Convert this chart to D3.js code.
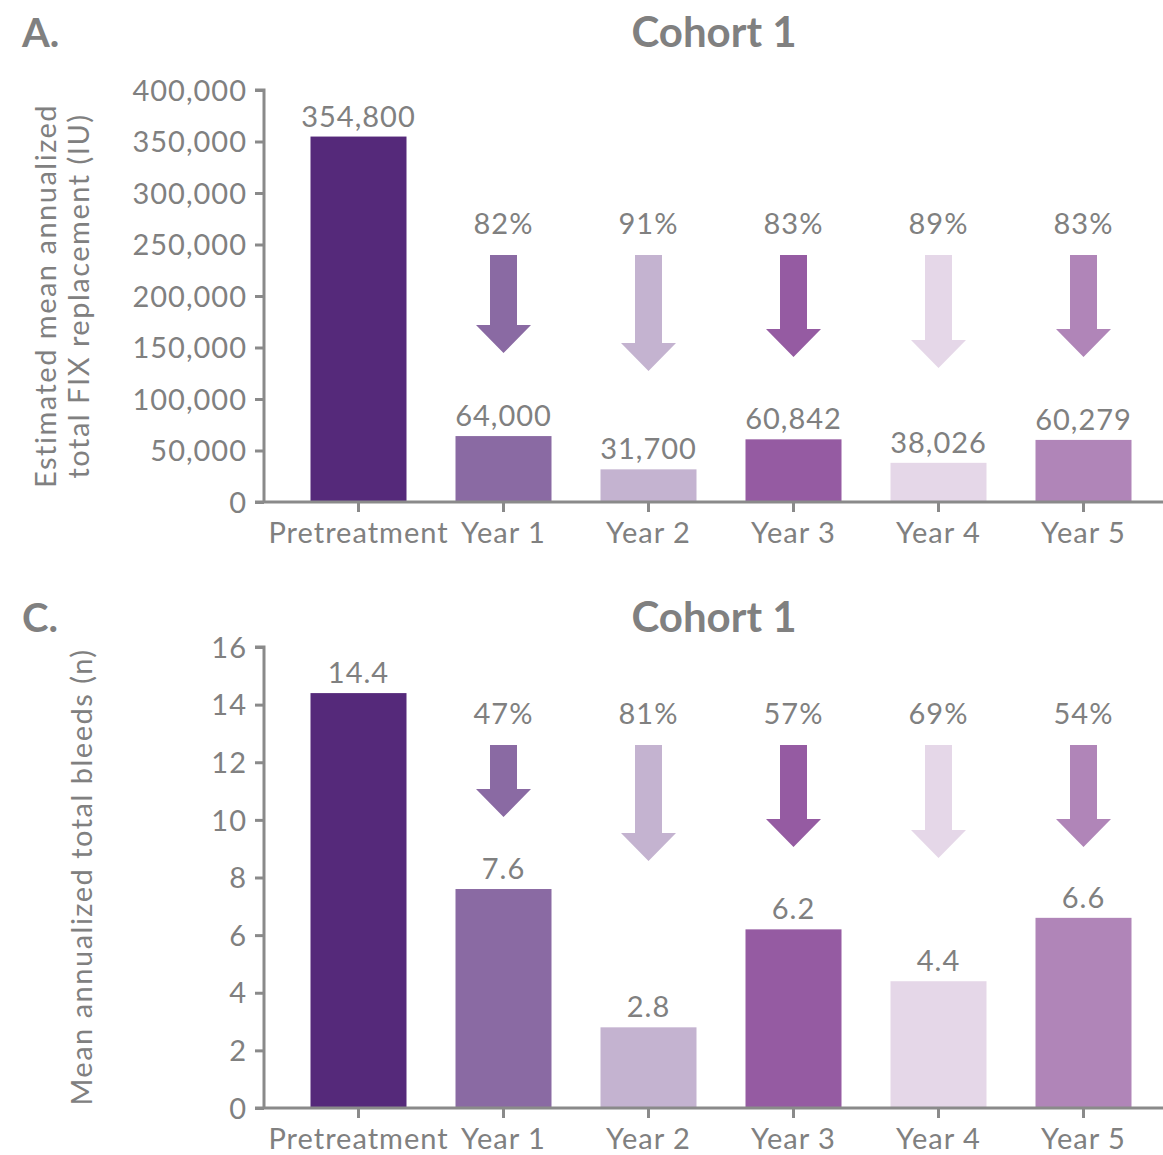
<!DOCTYPE html>
<html>
<head>
<meta charset="utf-8">
<script src="https://cdn.jsdelivr.net/npm/d3@7/dist/d3.min.js"></script>
<style>
  html, body { margin: 0; padding: 0; background: #ffffff; }
  svg { display: block; font-family: Lato, "Open Sans", sans-serif; }
</style>
</head>
<body>
<svg id="chart" width="1163" height="1155"></svg>
<script>
// ---- Data ----
const categories = ["Pretreatment", "Year 1", "Year 2", "Year 3", "Year 4", "Year 5"];
const fixValues = [354800, 64000, 31700, 60842, 38026, 60279];
const fixLabels = ["354,800", "64,000", "31,700", "60,842", "38,026", "60,279"];
const fixReductions = ["82%", "91%", "83%", "89%", "83%"];
const fixTicks = [0, 50000, 100000, 150000, 200000, 250000, 300000, 350000, 400000];

const bleedValues = [14.4, 7.6, 2.8, 6.2, 4.4, 6.6];
const bleedLabels = ["14.4", "7.6", "2.8", "6.2", "4.4", "6.6"];
const bleedReductions = ["47%", "81%", "57%", "69%", "54%"];
const bleedTicks = [0, 2, 4, 6, 8, 10, 12, 14, 16];

const colors = ["#55297a", "#8a6aa3", "#c4b3d0", "#955ba2", "#e5d7e8", "#b085b8"];

// arrow lengths (pixels, decorative)
const arrowLenA = [98, 116, 102, 113, 102];
const arrowLenC = [72, 116, 102, 113, 102];

const textColor = "#808080";
const axisColor = "#8a8a8a";
const FS = 29;     // body text size
const LS = 1;      // letter spacing

const svg = d3.select("#chart");

function panel(cfg) {
  const g = svg.append("g");
  const x = d3.scaleBand().domain(categories).range([286, 1156]).paddingInner(0.34).paddingOuter(0.17);
  const xc = d => x(d) + x.bandwidth() / 2;
  const y = d3.scaleLinear().domain(cfg.domain).range([cfg.y0, cfg.y1]);

  // panel letter
  g.append("text").attr("x", 22).attr("y", cfg.titleY)
    .attr("font-size", 40).attr("font-weight", 700).attr("fill", textColor).text(cfg.letter);
  // title
  g.append("text").attr("x", 714).attr("y", cfg.titleY).attr("text-anchor", "middle")
    .attr("font-size", 42).attr("font-weight", 700).attr("fill", textColor).text("Cohort 1");

  // bars
  g.selectAll("rect.bar").data(cfg.values).join("rect")
    .attr("x", (d, i) => xc(categories[i]) - 48)
    .attr("width", 96)
    .attr("y", d => y(d))
    .attr("height", d => y(0) - y(d))
    .attr("fill", (d, i) => colors[i]);

  // value labels
  g.selectAll("text.val").data(cfg.values).join("text")
    .attr("x", (d, i) => xc(categories[i]))
    .attr("y", d => y(d) - 10)
    .attr("text-anchor", "middle").attr("font-size", FS).attr("letter-spacing", LS)
    .attr("fill", textColor)
    .text((d, i) => cfg.labels[i]);

  // y axis
  const yAxis = d3.axisLeft(y).tickValues(cfg.ticks).tickSize(9).tickPadding(8)
    .tickFormat(cfg.fmt);
  const ya = g.append("g").attr("transform", "translate(264,0)").call(yAxis);
  ya.select(".domain").attr("stroke", axisColor).attr("stroke-width", 3)
    .attr("d", `M-9,${cfg.y1}H0V${cfg.y0}`);
  ya.selectAll(".tick line").attr("stroke", axisColor).attr("stroke-width", 3);
  ya.selectAll(".tick text").attr("fill", textColor).attr("font-size", FS)
    .attr("letter-spacing", LS)
    .attr("font-family", "Lato, sans-serif").attr("dy", "0.35em");

  // x axis
  const xAxis = d3.axisBottom(x).tickSize(10).tickPadding(10);
  const xa = g.append("g").attr("transform", `translate(0,${cfg.y0})`).call(xAxis);
  xa.select(".domain").attr("stroke", axisColor).attr("stroke-width", 3)
    .attr("d", "M255,0H1163");
  xa.selectAll(".tick line").attr("stroke", axisColor).attr("stroke-width", 3);
  xa.selectAll(".tick text").attr("fill", textColor).attr("font-size", FS)
    .attr("letter-spacing", LS)
    .attr("font-family", "Lato, sans-serif");

  // y axis label
  const lab = g.append("text")
    .attr("transform", `translate(${cfg.labX},${cfg.labY}) rotate(-90)`)
    .attr("text-anchor", "middle").attr("font-size", FS).attr("letter-spacing", 1.5)
    .attr("fill", textColor);
  cfg.ylabel.forEach((t, i) => {
    lab.append("tspan").attr("x", 0).attr("dy", i === 0 ? 0 : 33).text(t);
  });

  // arrows + reduction labels
  cfg.reductions.forEach((r, i) => {
    const cx = xc(categories[i + 1]);
    const top = cfg.arrowTop;
    const len = cfg.arrowLen[i];
    const tip = top + len, headY = tip - 28;
    const path = d3.path();
    path.moveTo(cx - 13.5, top);
    path.lineTo(cx + 13.5, top);
    path.lineTo(cx + 13.5, headY);
    path.lineTo(cx + 27.5, headY);
    path.lineTo(cx, tip);
    path.lineTo(cx - 27.5, headY);
    path.lineTo(cx - 13.5, headY);
    path.closePath();
    g.append("path").attr("d", path.toString()).attr("fill", colors[i + 1]);
    g.append("text").attr("x", cx).attr("y", top - 21)
      .attr("text-anchor", "middle").attr("font-size", FS).attr("letter-spacing", LS)
      .attr("fill", textColor).text(r);
  });
}

panel({
  letter: "A.", domain: [0, 400000], y0: 502, y1: 90, titleY: 47,
  values: fixValues, labels: fixLabels, reductions: fixReductions,
  ticks: fixTicks, fmt: d3.format(","),
  arrowTop: 255, arrowLen: arrowLenA,
  ylabel: ["Estimated mean annualized", "total FIX replacement (IU)"],
  labX: 56, labY: 296
});

panel({
  letter: "C.", domain: [0, 16], y0: 1108, y1: 647, titleY: 632,
  values: bleedValues, labels: bleedLabels, reductions: bleedReductions,
  ticks: bleedTicks, fmt: d3.format("d"),
  arrowTop: 745, arrowLen: arrowLenC,
  ylabel: ["Mean annualized total bleeds (n)"],
  labX: 92, labY: 877
});
</script>
</body>
</html>
